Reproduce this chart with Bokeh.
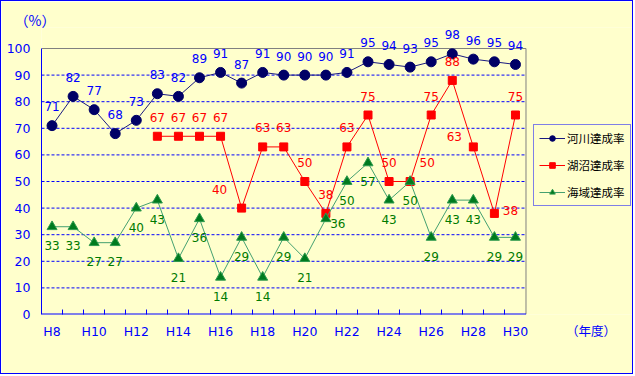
from bokeh.plotting import figure
from bokeh.models import (Range1d, FixedTicker, ColumnDataSource, LabelSet,
                          Legend, LegendItem)
from bokeh.core.properties import value
from bokeh.embed import file_html
from bokeh.resources import INLINE

# ---- data ----
years = ["H8", "H9", "H10", "H11", "H12", "H13", "H14", "H15", "H16", "H17", "H18", "H19",
         "H20", "H21", "H22", "H23", "H24", "H25", "H26", "H27", "H28", "H29", "H30"]
river = [71, 82, 77, 68, 73, 83, 82, 89, 91, 87, 91, 90, 90, 90, 91, 95, 94, 93, 95, 98, 96, 95, 94]
lake_years = ["H13", "H14", "H15", "H16", "H17", "H18", "H19", "H20", "H21", "H22",
              "H23", "H24", "H25", "H26", "H27", "H28", "H29", "H30"]
lake = [67, 67, 67, 67, 40, 63, 63, 50, 38, 63, 75, 50, 50, 75, 88, 63, 38, 75]
sea = [33, 33, 27, 27, 40, 43, 21, 36, 14, 29, 14, 29, 21, 36, 50, 57, 43, 50, 29, 43, 43, 29, 29]
y_ticks = [0, 10, 20, 30, 40, 50, 60, 70, 80, 90, 100]
series_names = ["河川達成率", "湖沼達成率", "海域達成率"]
y_unit = "（%）"
x_unit = "（年度）"

# ---- label placement (style) ----
ABOVE = (0, 19)
BELOW = (0, -19)
lake_label_exceptions = {"H17": (-22, 19), "H25": (17, 19), "H28": (-19, 10), "H29": (16, 3)}
sea_label_exceptions = {"H21": (12, -5)}

BG = "#FFFFCC"
BLUE = "#0000FF"
GRAY = "#808080"
FONT = "DejaVu Sans"
JFONT = "Noto Sans CJK JP"

# ---- geometry (pixels) ----
W, H = 633, 374
B_LEFT, B_RIGHT, B_TOP, B_BOTTOM = 40, 2, 26, 61
PX_X = 21.065     # pixels per category
PX_Y = 2.66       # pixels per percent
n = len(years)
x_lo, x_hi = -0.5, n - 0.5
x_end = x_lo + (W - B_LEFT - B_RIGHT) / PX_X
y_end = (H - B_TOP - B_BOTTOM) / PX_Y

idx = {y: i for i, y in enumerate(years)}

p = figure(width=W, height=H, output_backend="svg", toolbar_location=None,
           x_range=Range1d(x_lo, x_end), y_range=Range1d(0, y_end),
           min_border_left=B_LEFT, min_border_right=B_RIGHT,
           min_border_top=B_TOP, min_border_bottom=B_BOTTOM,
           background_fill_color=BG, border_fill_color=BG,
           outline_line_color=None, title=y_unit,
           styles={"border": "1px solid #0000FF"})

p.title.align = "left"
p.title.offset = -27
p.title.standoff = -4
p.title.text_color = BLUE
p.title.text_font = JFONT
p.title.text_font_size = "14px"
p.title.text_font_style = "normal"

# x axis (tick labels incl. unit)
x_tick_pos = list(range(0, n, 2))
x_unit_pos = x_lo + (591 - 41.5) / PX_X
p.xaxis.ticker = FixedTicker(ticks=x_tick_pos + [x_unit_pos],
                             minor_ticks=[i + 0.5 for i in range(n - 1)])
ov = {i: years[i] for i in x_tick_pos}
ov[x_unit_pos] = x_unit
p.xaxis.major_label_overrides = ov
p.xaxis.major_tick_line_color = None
p.xaxis.minor_tick_in = 5
p.xaxis.minor_tick_out = 0
p.xaxis.minor_tick_line_color = BLUE
p.xaxis.axis_line_color = None
p.xaxis.major_label_text_color = BLUE
p.xaxis.major_label_text_font = FONT + ", " + JFONT
p.xaxis.major_label_text_font_size = "12.5px"
p.xaxis.major_label_standoff = 3

# y axis
p.yaxis.ticker = FixedTicker(ticks=y_ticks)
p.yaxis.bounds = (0, 100)
p.yaxis.major_tick_in = 0
p.yaxis.major_tick_out = 0
p.yaxis.minor_tick_line_color = None
p.yaxis.axis_line_color = BLUE
p.yaxis.major_label_text_color = BLUE
p.yaxis.major_label_text_font = FONT
p.yaxis.major_label_text_font_size = "12.5px"
p.yaxis.major_label_standoff = 11

p.xgrid.visible = False
p.ygrid.visible = False

# plot-area frame: dashed grid, gray top/right border, blue bottom axis line
g = y_ticks[1:-1]
p.segment(x0=[x_lo] * len(g), y0=g, x1=[x_hi] * len(g), y1=g,
          line_color=BLUE, line_width=1, line_dash="3 2")
p.segment(x0=[x_lo, x_hi], y0=[100, 0], x1=[x_hi, x_hi], y1=[100, 100],
          line_color=GRAY, line_width=1)
p.segment(x0=[x_lo], y0=[0], x1=[x_hi], y1=[0], line_color=BLUE, line_width=2)

# series
rx = [idx[y] for y in years]
lx = [idx[y] for y in lake_years]

r1 = p.line(rx, river, line_color="#1A1A80", line_width=1)
m1 = p.scatter(rx, river, marker="circle", size=10, fill_color="#000066", line_color="#000066")
r2 = p.line(lx, lake, line_color="#FF0000", line_width=1)
m2 = p.scatter(lx, lake, marker="square", size=8, fill_color="#FF0000", line_color="#FF0000")
r3 = p.line(rx, sea, line_color="#44A070", line_width=1)
m3 = p.scatter(rx, sea, marker="triangle", size=10, fill_color="#007A1E", line_color="#2E9A4E")

# data labels
def add_labels(xs, names, vals, default, exceptions, color):
    offs = [exceptions.get(nm, default) for nm in names]
    src = ColumnDataSource(dict(x=xs, y=vals, t=[str(v) for v in vals],
                                dx=[o[0] for o in offs], dy=[o[1] for o in offs]))
    ls = LabelSet(x="x", y="y", text="t", x_offset="dx", y_offset="dy", source=src,
                  text_align="center", text_baseline="middle", text_color=color,
                  text_font=value(FONT), text_font_size=value("12px"))
    p.add_layout(ls)

add_labels(rx, years, river, ABOVE, {}, BLUE)
add_labels(lx, lake_years, lake, ABOVE, lake_label_exceptions, "#FF0000")
add_labels(rx, years, sea, BELOW, sea_label_exceptions, "#007A00")

# legend
legend = Legend(items=[LegendItem(label=series_names[0], renderers=[r1, m1]),
                       LegendItem(label=series_names[1], renderers=[r2, m2]),
                       LegendItem(label=series_names[2], renderers=[r3, m3])],
                location=(492, 108), orientation="vertical",
                border_line_color=BLUE, border_line_width=1,
                background_fill_color=BG, background_fill_alpha=1,
                label_text_font=JFONT, label_text_font_size="11.5px", label_text_color="#000000",
                glyph_width=26, glyph_height=14, label_height=14, spacing=11,
                padding=5, margin=0, label_standoff=2)
p.add_layout(legend, "center")

open("out.html", "w").write(file_html(p, INLINE))
